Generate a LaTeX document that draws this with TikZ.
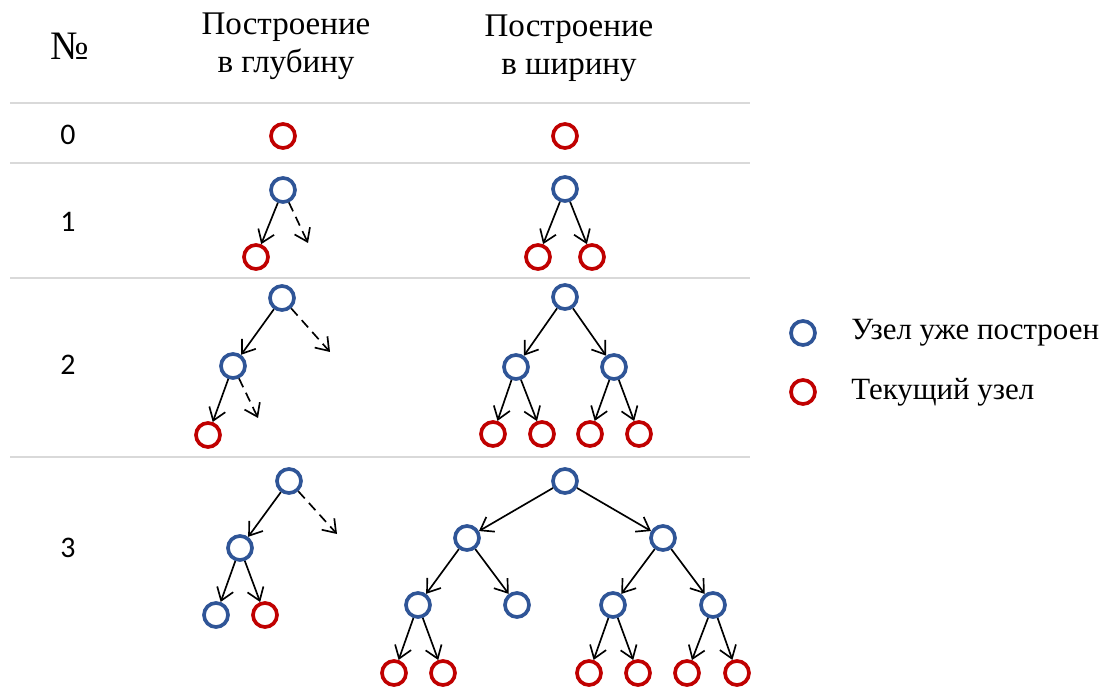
\documentclass[tikz,border=0pt]{standalone}
\usepackage{fontspec}
\setmainfont{Liberation Serif}
\newfontfamily\digitfont{Carlito}
\usepackage{tikz}
\usetikzlibrary{arrows.meta}
\definecolor{nodeblue}{HTML}{2F5597}
\definecolor{nodered}{HTML}{C00000}
\definecolor{rowline}{HTML}{D9D9D9}

\begin{document}
\begin{tikzpicture}[x=0.02cm, y=-0.02cm, done/.style={draw=nodeblue,circle,line width=2.1pt,minimum size=0.48cm,inner sep=0pt}, cur/.style={done,draw=nodered}, arr/.style={-{Straight Barb[length=2.4mm,width=3.4mm]},line width=0.95pt}, dasharr/.style={arr,dash pattern=on 5.5pt off 3.5pt}, head/.style={align=center,font=\fontsize{18.8}{21.5}\selectfont}, keytext/.style={anchor=west,inner sep=0pt,font=\fontsize{17.6}{20}\selectfont}, num/.style={font=\digitfont\fontsize{17}{19}\selectfont}]
\useasboundingbox (0,0) rectangle (1104,688);
\draw[rowline, line width=1pt] (10,103) -- (750,103);
\draw[rowline, line width=1pt] (10,163) -- (750,163);
\draw[rowline, line width=1pt] (10,278) -- (750,278);
\draw[rowline, line width=1pt] (10,457) -- (750,457);
\node (nohead) [head,font=\fontsize{23}{25}\selectfont] at (70,46) {№};
\node (dhead) [head] at (286,46) {Построение\\в глубину};
\node (bhead) [head] at (569,48) {Построение\\в ширину};
\node (n0) [num] at (68,135) {0};
\node (n1) [num] at (68,222) {1};
\node (n2) [num] at (68,365) {2};
\node (n3) [num] at (68,548) {3};
\node (d0) [cur] at (283,136) {};
\node (d1) [done] at (283,190) {};
\node (d1l) [cur] at (256,257) {};
\coordinate (d1r) at (308,243);
\draw[arr] (d1) -- (d1l);
\draw[dasharr] (d1) -- (d1r);
\node (d2) [done] at (282,298) {};
\node (d2l) [done] at (233,366) {};
\node (d2ll) [cur] at (208,435) {};
\coordinate (d2r) at (330,352);
\coordinate (d2lr) at (258,418);
\draw[arr] (d2) -- (d2l);
\draw[dasharr] (d2) -- (d2r);
\draw[arr] (d2l) -- (d2ll);
\draw[dasharr] (d2l) -- (d2lr);
\node (d3) [done] at (289,481) {};
\node (d3l) [done] at (240,548) {};
\node (d3ll) [done] at (216,615) {};
\node (d3lr) [cur] at (265,615) {};
\coordinate (d3r) at (337,534);
\draw[arr] (d3) -- (d3l);
\draw[dasharr] (d3) -- (d3r);
\draw[arr] (d3l) -- (d3ll);
\draw[arr] (d3l) -- (d3lr);
\node (b0) [cur] at (565,136) {};
\node (b1) [done] at (565,189) {};
\node (b1l) [cur] at (538,257) {};
\node (b1r) [cur] at (592,257) {};
\draw[arr] (b1) -- (b1l);
\draw[arr] (b1) -- (b1r);
\node (b2) [done] at (565,297) {};
\node (b2l) [done] at (516,367) {};
\node (b2r) [done] at (614,367) {};
\node (b2ll) [cur] at (493,434) {};
\node (b2lr) [cur] at (542,434) {};
\node (b2rl) [cur] at (590,434) {};
\node (b2rr) [cur] at (639,434) {};
\draw[arr] (b2) -- (b2l);
\draw[arr] (b2) -- (b2r);
\draw[arr] (b2l) -- (b2ll);
\draw[arr] (b2l) -- (b2lr);
\draw[arr] (b2r) -- (b2rl);
\draw[arr] (b2r) -- (b2rr);
\node (b3) [done] at (565,481) {};
\node (b3l) [done] at (467,538) {};
\node (b3r) [done] at (663,538) {};
\node (b3ll) [done] at (418,605) {};
\node (b3lr) [done] at (517,605) {};
\node (b3rl) [done] at (613,605) {};
\node (b3rr) [done] at (713,605) {};
\node (b3lll) [cur] at (394,673) {};
\node (b3llr) [cur] at (443,673) {};
\node (b3rll) [cur] at (589,673) {};
\node (b3rlr) [cur] at (638,673) {};
\node (b3rrl) [cur] at (687,673) {};
\node (b3rrr) [cur] at (737,673) {};
\draw[arr] (b3) -- (b3l);
\draw[arr] (b3) -- (b3r);
\draw[arr] (b3l) -- (b3ll);
\draw[arr] (b3l) -- (b3lr);
\draw[arr] (b3r) -- (b3rl);
\draw[arr] (b3r) -- (b3rr);
\draw[arr] (b3ll) -- (b3lll);
\draw[arr] (b3ll) -- (b3llr);
\draw[arr] (b3rl) -- (b3rll);
\draw[arr] (b3rl) -- (b3rlr);
\draw[arr] (b3rr) -- (b3rrl);
\draw[arr] (b3rr) -- (b3rrr);
\node (keydone) [done] at (803,333) {};
\node (keydonetxt) [keytext] at (851,333) {Узел уже построен};
\node (keycur) [cur] at (803,392) {};
\node (keycurtxt) [keytext] at (851,392) {Текущий узел};
\end{tikzpicture}
\end{document}
